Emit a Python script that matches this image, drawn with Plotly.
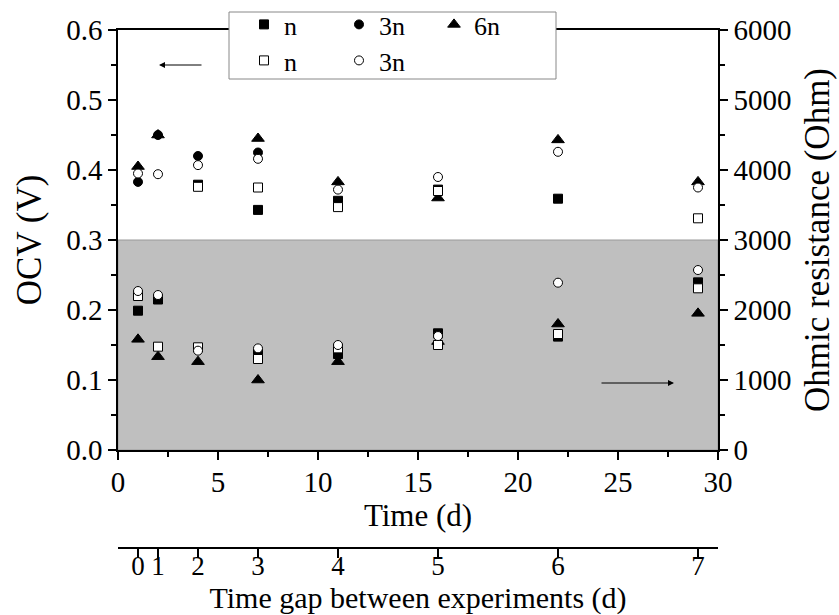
import plotly.graph_objects as go

time = [1, 2, 4, 7, 11, 16, 22, 29]
gap_ticks = [1, 2, 4, 7, 11, 16, 22, 29]
gap_labels = ["0", "1", "2", "3", "4", "5", "6", "7"]

# OCV (V) - left axis
ocv_n_f = [None, None, 0.379, 0.343, 0.356, 0.372, 0.359, None]
ocv_3n_f = [0.383, 0.450, 0.420, 0.425, None, None, None, None]
ocv_6n = [0.405, 0.450, None, 0.445, 0.383, 0.360, 0.443, 0.383]
ocv_n_o = [None, None, 0.376, 0.375, 0.347, 0.370, None, 0.331]
ocv_3n_o = [0.395, 0.394, 0.407, 0.416, 0.372, 0.390, 0.426, 0.375]

# Ohmic resistance (Ohm) - right axis
r_n_f = [1990, 2150, None, 1381, 1371, 1667, 1620, 2395]
r_3n_f = [None, None, None, None, None, None, None, None]
r_6n = [1581, 1333, 1262, 1000, 1262, 1550, 1800, 1952]
r_n_o = [2200, 1476, 1467, 1300, 1452, 1500, 1657, 2310]
r_3n_o = [2271, 2214, 1419, 1452, 1500, 1628, 2390, 2571]

FONT = "Liberation Serif"
TICK = 29
XT = 31
YT = 35

series = [
    ("n", ocv_n_f, r_n_f, "square", "black", "legend"),
    ("3n", ocv_3n_f, r_3n_f, "circle", "black", "legend"),
    ("6n", ocv_6n, r_6n, "triangle-up", "black", "legend"),
    ("n", ocv_n_o, r_n_o, "square", "white", "legend2"),
    ("3n", ocv_3n_o, r_3n_o, "circle", "white", "legend2"),
]

fig = go.Figure()
for i, (name, ocv, res, sym, fill, lg) in enumerate(series):
    size = 11 if sym == "triangle-up" else 9
    mk = dict(symbol=sym, color=fill, size=size, line=dict(color="black", width=1))
    fig.add_trace(go.Scatter(x=time, y=ocv, mode="markers", name=name, marker=mk,
                             legendgroup=f"g{i}", showlegend=True, legend=lg,
                             xaxis="x", yaxis="y"))
    fig.add_trace(go.Scatter(x=time, y=res, mode="markers", name=name, marker=mk,
                             legendgroup=f"g{i}", showlegend=False,
                             xaxis="x", yaxis="y2"))

# dummy trace for the secondary (gap) x-axis
fig.add_trace(go.Scatter(x=[None], y=[None], xaxis="x2", yaxis="y", showlegend=False,
                         mode="markers"))

W, H = 839, 615
paper_bottom = 548
paper_top = 30
ph = paper_bottom - paper_top
ydom0 = (paper_bottom - 450) / ph

def py(ypx):
    return 1 - (ypx - paper_top) / ph

def px(xpx):
    return (xpx - 118) / 600

axis_common = dict(showline=True, linecolor="black", linewidth=1.5, ticks="outside",
                   ticklen=8, tickwidth=1.5, tickcolor="black", showgrid=False,
                   zeroline=False, automargin=False,
                   tickfont=dict(family=FONT, size=TICK, color="black"))
minor_common = dict(ticks="outside", ticklen=5, tickcolor="black", tickwidth=1.5)

fig.update_layout(
    width=W, height=H,
    margin=dict(l=118, r=121, t=paper_top, b=H - paper_bottom, autoexpand=False),
    paper_bgcolor="white", plot_bgcolor="white",
    font=dict(family=FONT, size=TICK, color="black"),
    xaxis=dict(range=[0, 30], dtick=5, domain=[0, 1], anchor="y", mirror=True,
               minor=dict(dtick=2.5, **minor_common), ticklabelstandoff=-3,
               title=dict(text="Time (d)", font=dict(family=FONT, size=XT), standoff=4),
               **axis_common),
    xaxis2=dict(range=[0, 30], overlaying="x", anchor="free", position=0, side="bottom",
                tickmode="array", tickvals=gap_ticks, ticktext=gap_labels,
                ticklabelstandoff=-15,
                title=dict(text="Time gap between experiments (d)", font=dict(family=FONT, size=30), standoff=2),
                **{**axis_common, "ticklen": 9,
                   "tickfont": dict(family=FONT, size=27, color="black")}),
    yaxis=dict(range=[0, 0.6], dtick=0.1, tickformat=".1f", domain=[ydom0, 1], anchor="x",
               minor=dict(dtick=0.05, **minor_common),
               title=dict(text="OCV (V)", font=dict(family=FONT, size=YT), standoff=14),
               **axis_common),
    yaxis2=dict(range=[0, 6000], dtick=1000, overlaying="y", side="right", anchor="x",
                minor=dict(dtick=500, **minor_common),
                title=dict(text="Ohmic resistance (Ohm)", font=dict(family=FONT, size=YT), standoff=14),
                **axis_common),
    legend=dict(orientation="h", xref="container", yref="container",
                x=244 / W, y=1 - 1 / H, xanchor="left", yanchor="top",
                bgcolor="rgba(0,0,0,0)", entrywidth=50, itemwidth=30,
                font=dict(family=FONT, size=26, color="black")),
    legend2=dict(orientation="h", xref="container", yref="container",
                 x=244 / W, y=1 - 37 / H, xanchor="left", yanchor="top",
                 bgcolor="rgba(0,0,0,0)", entrywidth=50, itemwidth=30,
                 font=dict(family=FONT, size=26, color="black")),
    shapes=[
        dict(type="rect", xref="x", yref="y", x0=0, x1=30, y0=0, y1=0.3,
             fillcolor="#bfbfbf", line=dict(color="#9a9a9a", width=1), layer="below"),
        dict(type="rect", xref="paper", yref="paper", x0=px(229), x1=px(556),
             y0=py(79), y1=py(12), fillcolor="white", line=dict(color="#888888", width=1),
             layer="above"),
    ],
    annotations=[
        dict(x=2.05, y=0.55, ax=4.25, ay=0.55, xref="x", yref="y", axref="x", ayref="y",
             text="", showarrow=True, arrowhead=2, arrowwidth=1, arrowsize=1.2, arrowcolor="black"),
        dict(x=27.8, y=957, ax=24.1, ay=957, xref="x", yref="y2", axref="x", ayref="y2",
             text="", showarrow=True, arrowhead=2, arrowwidth=1, arrowsize=1.2, arrowcolor="black"),
    ],
)

fig.write_html("out.html", config={"displayModeBar": False},
               post_script="document.body.style.margin='0';document.body.style.padding='0';")
